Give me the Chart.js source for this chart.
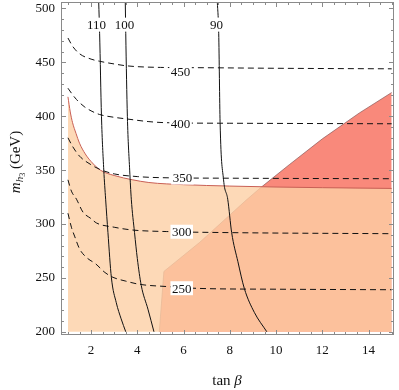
<!DOCTYPE html>
<html>
<head>
<meta charset="utf-8">
<script src="https://cdn.jsdelivr.net/npm/chart.js@4.4.1/dist/chart.umd.min.js"></script>
<style>
  html, body { margin: 0; padding: 0; background: #fff; }
  canvas { display: block; }
</style>
</head>
<body>
<canvas id="chart" width="399" height="390"></canvas>
<script>
// axis ticks
const xTicks = [2, 4, 6, 8, 10, 12, 14];
const yTicks = [200, 250, 300, 350, 400, 450, 500];

// excluded region (red), upper edge
const regionB = [[4.95, 200], [5.15, 256], [6.7, 283], [8.7, 322], [9.35, 334], [10.57, 355], [12, 379], [13.6, 403], [15, 422]];
// allowed region (peach), upper edge
const regionA = [[1, 418], [1.1, 404], [1.2, 394], [1.35, 384], [1.5, 375], [1.75, 365], [2, 358], [2.4, 350], [3, 345], [3.8, 341], [4.5, 338.5], [6, 336.5], [8, 335.2], [10, 334.3], [12, 333.7], [15, 333]];

// dashed contours (m_h3)
const dash450 = [[1, 472.6], [1.2, 465], [1.5, 458], [2, 453], [2.37, 451], [3, 448.5], [3.45, 447], [4, 446], [5, 445.3], [7, 445], [10, 444.5], [15, 444]];
const dash400 = [[1, 426], [1.2, 420], [1.37, 415.5], [1.7, 409], [2, 405], [2.37, 401.6], [3, 399], [3.5, 397.6], [4.5, 395], [5.25, 394], [8, 393.5], [15, 393]];
const dash350 = [[1, 380], [1.2, 372], [1.5, 363], [2, 355], [2.4, 350.5], [3, 346.5], [4, 344], [5, 343], [8, 342.5], [15, 342]];
const dash300 = [[1, 341], [1.15, 330.5], [1.37, 323], [1.65, 311], [2, 305], [2.23, 301], [3, 297], [3.8, 294.4], [5.25, 293], [8, 292], [15, 291]];
const dash250 = [[1, 310], [1.15, 297], [1.3, 288], [1.5, 277], [1.8, 269], [2.2, 263], [2.6, 255], [2.95, 250.5], [3.5, 247], [4.1, 244], [5.25, 242], [6.7, 240.2], [10, 239.5], [15, 239]];

// solid contours
const solid110 = [[2.33, 506], [2.37, 477], [2.45, 400], [2.55, 350], [2.63, 323], [2.73, 292], [2.88, 250], [3.09, 227], [3.3, 212], [3.5, 200]];
const solid100 = [[3.48, 506], [3.5, 477], [3.57, 400], [3.67, 350], [3.74, 323], [3.88, 292], [4.0, 268], [4.17, 243], [4.46, 221], [4.72, 200]];
const solid90 = [[7.46, 506], [7.52, 477], [7.58, 394], [7.73, 341], [7.91, 323], [8.08, 292], [8.35, 265], [8.63, 240], [9.06, 218], [9.6, 200]];

// contour labels
const dashLabels = ['450', '400', '350', '300', '250'];
const dashLabelPos = [[5.87, 441.7], [5.87, 393.3], [5.95, 343.1], [5.92, 292.8], [5.92, 240.4]];
const solidLabels = ['110', '100', '90'];
const solidLabelPos = [[2.24, 485], [3.45, 485], [7.42, 485]];

const SERIF = "'Liberation Serif', 'Times New Roman', serif";
const pts = arr => arr.map(([x, y]) => ({ x, y }));

function line(arr, dashed) {
  return {
    data: pts(arr),
    showLine: true,
    pointRadius: 0,
    borderColor: '#111',
    borderWidth: 1,
    borderDash: dashed ? [6, 4] : [],
    fill: false,
    cubicInterpolationMode: 'monotone',
    order: 1
  };
}

const framePlugin = {
  id: 'frame',
  afterDraw(chart) {
    const { ctx, chartArea: a, scales: { x, y } } = chart;
    ctx.save();
    ctx.strokeStyle = '#8a8a8a';
    ctx.lineWidth = 1;
    ctx.strokeRect(a.left + 0.5, a.top + 0.5, a.right - a.left - 1, a.bottom - a.top - 1);
    ctx.beginPath();
    for (let v = 1; v <= 15.001; v += 0.5) {
      const px = Math.round(x.getPixelForValue(v)) + 0.5;
      const len = xTicks.includes(v) ? 5 : 3;
      ctx.moveTo(px, a.bottom); ctx.lineTo(px, a.bottom - len);
      ctx.moveTo(px, a.top); ctx.lineTo(px, a.top + len);
    }
    for (let v = 200; v <= 500; v += 10) {
      const py = Math.round(y.getPixelForValue(v)) + 0.5;
      const len = yTicks.includes(v) ? 5 : 3;
      ctx.moveTo(a.left, py); ctx.lineTo(a.left + len, py);
      ctx.moveTo(a.right, py); ctx.lineTo(a.right - len, py);
    }
    ctx.stroke();

    // axis titles
    ctx.fillStyle = '#111';
    ctx.textBaseline = 'alphabetic';
    ctx.font = '15px ' + SERIF;
    const tanW = ctx.measureText('tan ').width;
    ctx.font = 'italic 15px ' + SERIF;
    const betaW = ctx.measureText('β').width;
    let sx = 227 - (tanW + betaW) / 2;
    ctx.font = '15px ' + SERIF;
    ctx.fillText('tan ', sx, 385);
    ctx.font = 'italic 15px ' + SERIF;
    ctx.fillText('β', sx + tanW, 385);

    ctx.translate(20, 162);
    ctx.rotate(-Math.PI / 2);
    const parts = [
      ['m', 'italic 15px ', 0],
      ['h', 'italic 11px ', 3],
      ['3', '8px ', 5],
      [' (GeV)', '15px ', 0]
    ];
    let total = 0;
    parts.forEach(p => { ctx.font = p[1] + SERIF; total += ctx.measureText(p[0]).width; });
    let cx = -total / 2;
    parts.forEach(p => {
      ctx.font = p[1] + SERIF;
      ctx.fillText(p[0], cx, p[2]);
      cx += ctx.measureText(p[0]).width;
    });
    ctx.restore();
  }
};

const labelPlugin = {
  id: 'contourLabels',
  afterDatasetsDraw(chart) {
    const { ctx, scales: { x, y } } = chart;
    ctx.save();
    ctx.font = '13px ' + SERIF;
    ctx.textAlign = 'center';
    ctx.textBaseline = 'middle';
    const draw = (txt, pos) => {
      const px = x.getPixelForValue(pos[0]);
      const py = y.getPixelForValue(pos[1]);
      const w = ctx.measureText(txt).width + 3;
      ctx.fillStyle = '#fff';
      ctx.fillRect(px - w / 2, py - 7, w, 14);
      ctx.fillStyle = '#111';
      ctx.fillText(txt, px, py + 1);
    };
    dashLabels.forEach((t, i) => draw(t, dashLabelPos[i]));
    solidLabels.forEach((t, i) => draw(t, solidLabelPos[i]));
    ctx.restore();
  }
};

new Chart(document.getElementById('chart'), {
  type: 'scatter',
  data: {
    datasets: [
      {
        data: pts(regionB),
        showLine: true,
        pointRadius: 0,
        borderColor: 'rgba(140,90,90,0.7)',
        borderWidth: 1,
        backgroundColor: 'rgb(249,137,123)',
        fill: { value: 200 },
        order: 10
      },
      {
        data: pts(regionA),
        showLine: true,
        pointRadius: 0,
        borderColor: 'rgb(200,95,85)',
        borderWidth: 1,
        backgroundColor: 'rgba(252,207,165,0.8)',
        fill: { value: 200 },
        cubicInterpolationMode: 'monotone',
        order: 9
      },
      line(dash450, true),
      line(dash400, true),
      line(dash350, true),
      line(dash300, true),
      line(dash250, true),
      line(solid110, false),
      line(solid100, false),
      line(solid90, false)
    ]
  },
  options: {
    responsive: false,
    animation: false,
    devicePixelRatio: 1,
    layout: { padding: { top: 2, right: 5, left: 0, bottom: 0 } },
    plugins: { legend: { display: false }, tooltip: { enabled: false } },
    scales: {
      x: {
        type: 'linear',
        min: 0.7,
        max: 15.1,
        grid: { display: false, drawTicks: false },
        border: { display: false },
        afterBuildTicks: s => { s.ticks = xTicks.map(v => ({ value: v })); },
        afterFit: s => { s.height = 55; s.paddingLeft = 0; s.paddingRight = 0; },
        ticks: { color: '#111', padding: 8, maxRotation: 0, font: { family: SERIF, size: 13 } }
      },
      y: {
        min: 197,
        max: 506,
        grid: { display: false, drawTicks: false },
        border: { display: false },
        afterBuildTicks: s => { s.ticks = yTicks.map(v => ({ value: v })); },
        afterFit: s => { s.width = 61; s.paddingTop = 0; s.paddingBottom = 0; },
        ticks: { color: '#111', padding: 6, font: { family: SERIF, size: 13 } }
      }
    }
  },
  plugins: [framePlugin, labelPlugin]
});
</script>
</body>
</html>
